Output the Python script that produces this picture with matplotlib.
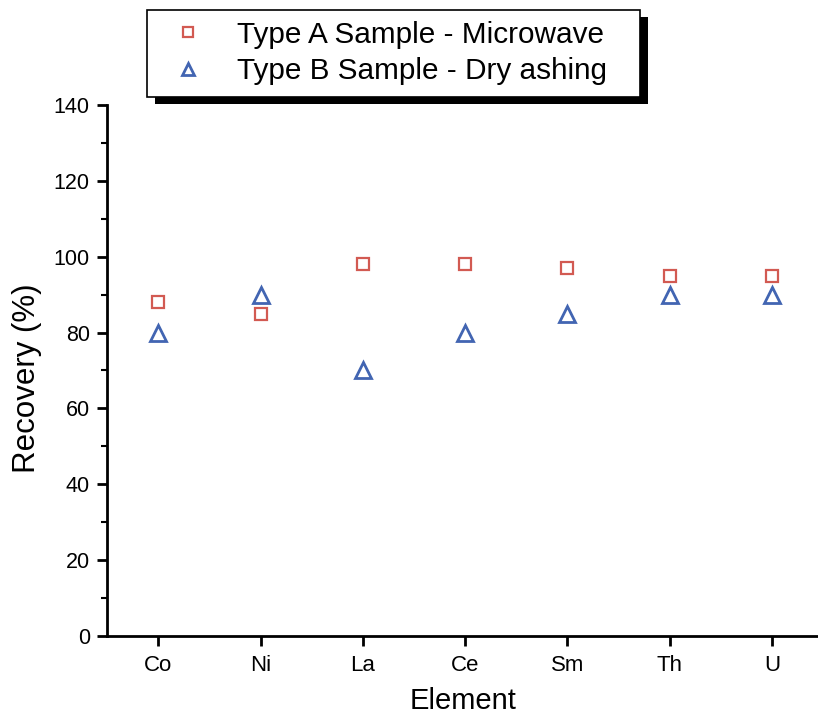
import matplotlib
matplotlib.use("Agg")
import matplotlib.pyplot as plt
from matplotlib.patches import Rectangle
from matplotlib.ticker import MultipleLocator

plt.rcParams["font.family"] = ["Liberation Sans", "DejaVu Sans"]

elements = ["Co", "Ni", "La", "Ce", "Sm", "Th", "U"]
microwave = [88, 85, 98, 98, 97, 95, 95]
dry_ashing = [80, 90, 70, 80, 85, 90, 90]

fig = plt.figure(figsize=(8.18, 7.2), dpi=100)
ax = fig.add_axes([0.131, 0.117, 0.869, 0.737])

x = list(range(len(elements)))
ax.plot(x, microwave, linestyle="none", marker="s", markersize=9,
        markerfacecolor="none", markeredgecolor="#d25a52", markeredgewidth=1.6,
        label="Type A Sample - Microwave")
ax.plot(x, dry_ashing, linestyle="none", marker="^", markersize=11,
        markerfacecolor="none", markeredgecolor="#4265b2", markeredgewidth=2,
        label="Type B Sample - Dry ashing")

ax.set_xlim(-0.5, 6.45)
ax.set_ylim(0, 140)
ax.set_xticks(x)
ax.set_xticklabels(elements, fontsize=16)
ax.yaxis.set_major_locator(MultipleLocator(20))
ax.yaxis.set_minor_locator(MultipleLocator(10))
ax.tick_params(axis="y", labelsize=15.5, length=7.5, width=2, direction="out", pad=5)
ax.tick_params(axis="y", which="minor", length=4, width=1.5)
ax.tick_params(axis="x", length=7.5, width=2, direction="out", pad=6)

for s in ["top", "right"]:
    ax.spines[s].set_visible(False)
for s in ["left", "bottom"]:
    ax.spines[s].set_linewidth(2)

ax.set_xlabel("Element", fontsize=21, labelpad=8)
ax.set_ylabel("Recovery (%)", fontsize=22.5)
ax.yaxis.set_label_coords(-0.092, 0.486)

# legend box with a solid black drop shadow
fig.add_artist(Rectangle((155 / 818, 1 - 104 / 720), 493 / 818, 87 / 720,
                         transform=fig.transFigure, facecolor="black",
                         edgecolor="none", zorder=3))
fig.add_artist(Rectangle((147 / 818, 1 - 97 / 720), 493 / 818, 87 / 720,
                         transform=fig.transFigure, facecolor="white",
                         edgecolor="black", linewidth=1.2, zorder=4))

handles, labels = ax.get_legend_handles_labels()
leg = fig.legend(handles, labels, loc="upper left", bbox_to_anchor=(0.2115, 0.971),
                 fontsize=21.4, frameon=False, markerscale=0.75,
                 handletextpad=1.15, handlelength=1.0, borderpad=0,
                 labelspacing=0.27, borderaxespad=0)
leg.set_zorder(5)

fig.savefig("out.png", dpi=100)
